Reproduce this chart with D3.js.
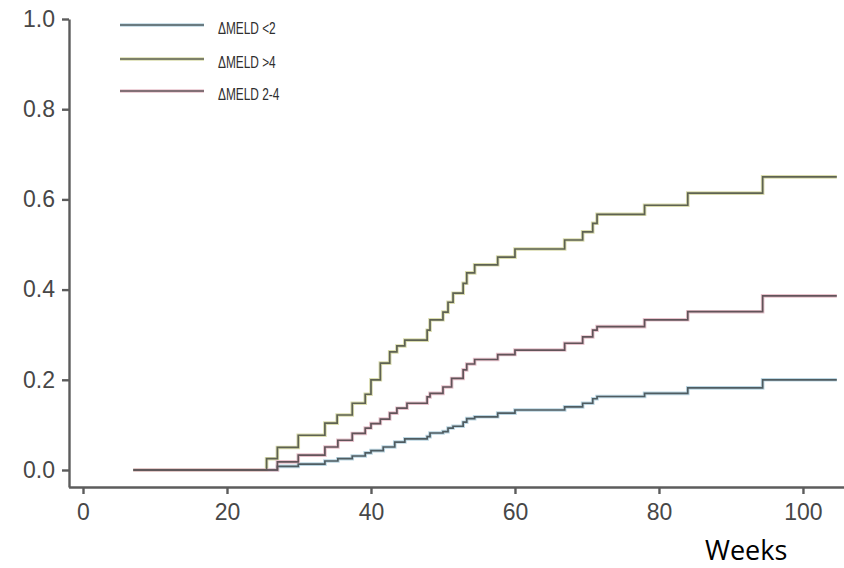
<!DOCTYPE html>
<html>
<head>
<meta charset="utf-8">
<script src="https://cdn.jsdelivr.net/npm/d3@7"></script>
<style>
  body { margin: 0; background: #fff; }
  svg { display: block; }
  .axis path, .axis line { stroke: #5c5c5c; stroke-width: 2.4; }
  .axis text { font-family: "Liberation Sans", Arial, sans-serif; font-size: 23px; fill: #474747; }
</style>
</head>
<body>
<svg></svg>
<script>
//legend labels, in the order of the legend
var groups = ["ΔMELD <2", "ΔMELD >4", "ΔMELD 2-4"];

//step times (weeks) and cumulative incidence for each group
var lowWeeks = [7, 27, 29.9, 33.6, 35.4, 37.4, 39.2, 40, 41.7, 43.3, 44.7, 47.8, 48.2, 50, 50.7, 51.4, 52.8, 53.3, 54.4, 57.6, 60, 66.9, 69.4, 70.8, 71.4, 78, 84, 94.4];
var lowRisk = [0, 0.008, 0.013, 0.02, 0.025, 0.031, 0.038, 0.043, 0.051, 0.062, 0.069, 0.074, 0.082, 0.085, 0.093, 0.097, 0.106, 0.114, 0.118, 0.126, 0.133, 0.14, 0.148, 0.158, 0.163, 0.17, 0.182, 0.2];

var highWeeks = [7, 25.5, 27, 29.9, 33.6, 35.3, 37.4, 39.2, 40, 41.3, 42.6, 43.6, 44.7, 47.8, 48.2, 50, 50.7, 51.4, 52.8, 53.3, 54.4, 57.6, 60, 66.9, 69.4, 70.8, 71.4, 78, 84, 94.4];
var highRisk = [0, 0.025, 0.05, 0.077, 0.104, 0.122, 0.148, 0.168, 0.2, 0.237, 0.262, 0.275, 0.288, 0.31, 0.333, 0.35, 0.372, 0.392, 0.414, 0.437, 0.455, 0.472, 0.49, 0.51, 0.528, 0.547, 0.567, 0.587, 0.614, 0.65];

var midWeeks = [7, 27, 29.9, 33.6, 35.4, 37.4, 39.2, 40, 41.3, 42.6, 43.6, 45, 47.8, 48.2, 50, 51.2, 52.8, 53.3, 54.4, 57.6, 60, 66.9, 69.4, 70.8, 71.4, 78, 84, 94.4];
var midRisk = [0, 0.018, 0.033, 0.051, 0.066, 0.081, 0.093, 0.103, 0.113, 0.126, 0.137, 0.148, 0.162, 0.17, 0.184, 0.203, 0.222, 0.235, 0.245, 0.256, 0.266, 0.281, 0.295, 0.31, 0.318, 0.333, 0.351, 0.386];

var lastWeek = 104.7;

var xTicks = [0, 20, 40, 60, 80, 100];
var yTicks = [0, 0.2, 0.4, 0.6, 0.8, 1.0];

//halo colour and line colour for each group
var haloColors = ["#bcd6e2", "#dadcae", "#e8c3cd"];
var lineColors = ["#4f5c61", "#5e6252", "#615459"];

var makeTranslateString = function (x, y) {
  return "translate(" + x + "," + y + ")";
};

var screen = { width: 844, height: 568 };

var svg = d3.select("svg").attr("width", screen.width).attr("height", screen.height);

var xScale = d3.scaleLinear().domain([-2, 105.7]).range([68.6, 844]);
var yScale = d3.scaleLinear().domain([-0.0377, 1]).range([487, 19]);

var xAxis = d3.axisBottom(xScale).tickValues(xTicks).tickSize(7).tickSizeOuter(0).tickPadding(10);
var yAxis = d3.axisLeft(yScale).tickValues(yTicks).tickSize(7).tickSizeOuter(0).tickPadding(7)
  .tickFormat(d3.format(".1f"));

svg.append("g").attr("class", "axis").attr("transform", makeTranslateString(0, 487)).call(xAxis);
svg.append("g").attr("class", "axis").attr("transform", makeTranslateString(69, 0)).call(yAxis);

var toPoints = function (weeks, risk) {
  var pts = weeks.map(function (w, i) { return [w, risk[i]]; });
  pts.push([lastWeek, risk[risk.length - 1]]);
  return pts;
};

var curves = [toPoints(lowWeeks, lowRisk), toPoints(highWeeks, highRisk), toPoints(midWeeks, midRisk)];

var line = d3.line()
  .x(function (d) { return xScale(d[0]); })
  .y(function (d) { return yScale(d[1]); })
  .curve(d3.curveStepAfter);

var plot = svg.append("g").attr("id", "plot");

plot.selectAll("path.halo")
  .data(curves)
  .enter()
  .append("path")
  .attr("class", "halo")
  .attr("d", line)
  .attr("fill", "none")
  .attr("stroke", function (d, i) { return haloColors[i]; })
  .attr("stroke-width", 3.6);

plot.selectAll("path.curve")
  .data(curves)
  .enter()
  .append("path")
  .attr("class", "curve")
  .attr("d", line)
  .attr("fill", "none")
  .attr("stroke", function (d, i) { return lineColors[i]; })
  .attr("stroke-width", 1.7);

//legend
var legendY = [25, 59, 91];
var legend = svg.append("g").attr("class", "legend");

var entries = legend.selectAll("g")
  .data(groups)
  .enter()
  .append("g")
  .attr("transform", function (d, i) { return makeTranslateString(120, legendY[i]); });

entries.append("line")
  .attr("x1", 0).attr("x2", 84).attr("y1", 0).attr("y2", 0)
  .attr("stroke", function (d, i) { return haloColors[i]; })
  .attr("stroke-width", 3.6);

entries.append("line")
  .attr("x1", 0).attr("x2", 84).attr("y1", 0).attr("y2", 0)
  .attr("stroke", function (d, i) { return lineColors[i]; })
  .attr("stroke-width", 1.7);

entries.append("text")
  .attr("transform", "translate(98,8.5) scale(0.72,1)")
  .attr("font-family", "Liberation Sans, Arial, sans-serif")
  .attr("font-size", 16.5)
  .attr("fill", "#2e2e2e")
  .text(function (d) { return d; });

svg.append("text")
  .attr("x", 705)
  .attr("y", 560)
  .attr("font-family", "Open Sans, sans-serif")
  .attr("font-size", 27)
  .attr("fill", "#000")
  .text("Weeks");
</script>
</body>
</html>
